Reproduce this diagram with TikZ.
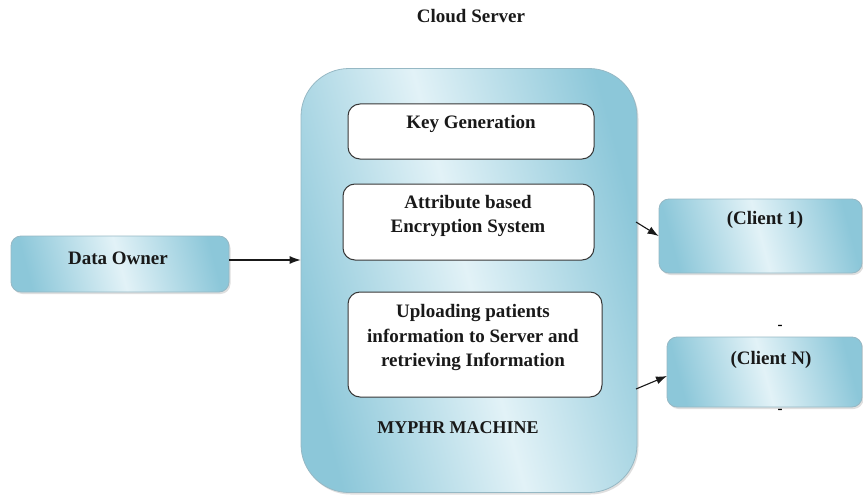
\documentclass[tikz,border=0pt]{standalone}
\usepackage{fontspec}
\setmainfont{Liberation Serif}
\usetikzlibrary{shadows,arrows.meta}
\definecolor{bdark}{RGB}{140,199,217}
\definecolor{blight}{RGB}{226,242,247}
\definecolor{bedge}{RGB}{150,184,196}
\definecolor{wedge}{RGB}{55,55,55}
\begin{document}
\begin{tikzpicture}[x=1pt,y=-1pt,
  txt/.style={font=\fontsize{19}{24.5}\selectfont\bfseries, align=center, inner sep=0pt, text=black!90},
  smalltxt/.style={font=\fontsize{18}{22}\selectfont\bfseries, inner sep=0pt, text=black!90},
  dashmark/.style={font=\fontsize{15}{16}\selectfont\bfseries, inner sep=0pt, text=black},
  bluebox/.style={draw=bedge, line width=0.8pt, rounded corners=#1,
    left color=bdark, right color=bdark, middle color=blight, shading angle=105,
    drop shadow={opacity=0.25, shadow xshift=1.5pt, shadow yshift=-2pt}},
  whitebox/.style={draw=wedge, line width=1pt, rounded corners=12pt, fill=white},
  arr/.style={-{Latex[length=11pt,width=8pt]}, line width=1.1pt, black!90}]
\useasboundingbox (0,0) rectangle (863,495);
% cloud server
\node[txt] (cst) at (471,16) {Cloud Server};
\node[bluebox=48pt, minimum width=336pt, minimum height=424pt] (srv) at (469,280.5) {};
\node[whitebox, minimum width=246pt, minimum height=55pt] (kg) at (471,131.5) {};
\node[whitebox, minimum width=251pt, minimum height=76pt] (ab) at (468.5,222) {};
\node[whitebox, minimum width=254pt, minimum height=105pt] (up) at (475,344.5) {};
\node[txt] (kgt) at (471,124) {Key Generation};
\node[txt] (abt) at (468,216) {Attribute based\\Encryption System};
\node[txt] (upt) at (473,338) {Uploading patients\\information to Server and\\retrieving Information};
\node[smalltxt] (mmt) at (458,428) {MYPHR MACHINE};
% data owner
\node[bluebox=10pt, minimum width=218pt, minimum height=56pt] (do) at (120,264) {};
\node[txt] (dot) at (118,258) {Data Owner};
% clients
\node[bluebox=10pt, minimum width=203pt, minimum height=74pt] (c1) at (760.5,236) {};
\node[txt] (c1t) at (765,220) {(Client 1)};
\node[bluebox=10pt, minimum width=195pt, minimum height=70pt] (cn) at (764.5,372) {};
\node[txt] (cnt) at (771,360) {(Client N)};
\node[dashmark] (d1) at (780,327) {-};
\node[dashmark] (d2) at (780,411) {-};
% connectors
\coordinate (dos) at (229,260);
\coordinate (a1s) at (636,222);
\coordinate (ans) at (636,389);
\coordinate (ane) at (667,376);
\draw[arr] (dos) -- (dos -| srv.west);
\draw[arr] (a1s) -- (c1.west);
\draw[arr] (ans) -- (ane);
\end{tikzpicture}
\end{document}
